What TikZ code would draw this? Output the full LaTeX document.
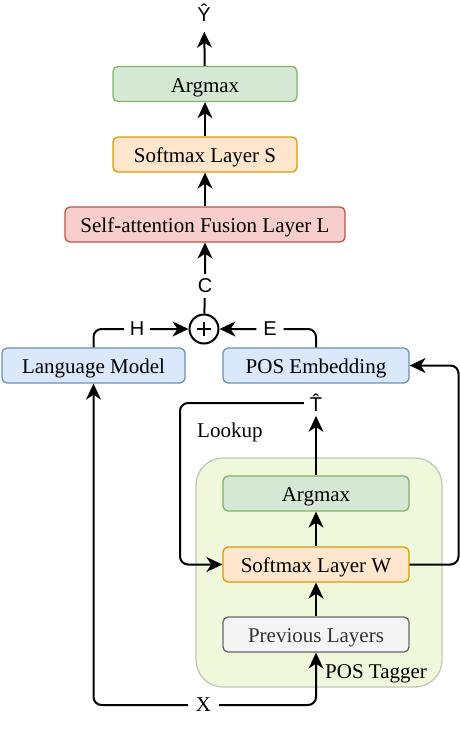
\documentclass[tikz,border=0pt]{standalone}
\usepackage{fontspec}
\setmainfont{Liberation Serif}
\newfontfamily\labfont{Liberation Sans}
\usetikzlibrary{arrows.meta}
\definecolor{gfill}{HTML}{D5E8D4}\definecolor{gdraw}{HTML}{82B366}
\definecolor{ofill}{HTML}{FFE6CC}\definecolor{odraw}{HTML}{D79B00}
\definecolor{rfill}{HTML}{F8CECC}\definecolor{rdraw}{HTML}{B85450}
\definecolor{bfill}{HTML}{DAE8FC}\definecolor{bdraw}{HTML}{6C8EBF}
\definecolor{pfill}{HTML}{F5F5F5}\definecolor{pdraw}{HTML}{666666}\definecolor{ptext}{HTML}{333333}
\definecolor{tfill}{RGB}{240,248,220}\definecolor{tdraw}{RGB}{192,200,182}
\begin{document}
\begin{tikzpicture}[x=1pt,y=-1pt,
  box/.style={draw, rounded corners=5pt, line width=1.3pt, inner sep=0pt,
    minimum height=35pt, text height=16pt, text depth=0pt,
    font=\fontsize{21}{24}\selectfont},
  greenbox/.style={box, fill=gfill, draw=gdraw},
  orangebox/.style={box, fill=ofill, draw=odraw},
  redbox/.style={box, fill=rfill, draw=rdraw},
  bluebox/.style={box, fill=bfill, draw=bdraw},
  greybox/.style={box, fill=pfill, draw=pdraw, text=ptext},
  lab/.style={inner sep=0pt, outer xsep=6pt, outer ysep=5pt, font=\labfont\fontsize{20}{22}\selectfont},
  serlab/.style={inner sep=0pt, font=\fontsize{21}{24}\selectfont},
  tip/.style={-{Stealth[length=16pt,width=15pt,inset=5pt]}},
  arr/.style={tip, line width=2pt},
  thinarr/.style={tip, line width=1.2pt},
  rc/.style={rounded corners=8pt}
]
\useasboundingbox (0,0) rectangle (460,742);

% POS Tagger container
\node[draw=tdraw, fill=tfill, line width=1.3pt, rounded corners=27pt,
      minimum width=246pt, minimum height=229pt, inner sep=0pt] (tagger) at (319,572.5) {};
\node[serlab, anchor=base west] (taglab) at (325,678) {POS Tagger};

% boxes
\node[greenbox, minimum width=184pt] (argS) at (205,84) {Argmax};
\node[orangebox, minimum width=184pt] (softS) at (205,154.5) {Softmax Layer S};
\node[redbox, minimum width=280pt] (fus) at (205,224.5) {Self-attention Fusion Layer L};
\node[bluebox, minimum width=183pt] (lm) at (93.5,365.5) {Language Model};
\node[bluebox, minimum width=186pt] (pe) at (316,365.5) {POS Embedding};
\node[greenbox, minimum width=186pt] (arg2) at (316,493.5) {Argmax};
\node[orangebox, minimum width=186pt] (softW) at (316,564.5) {Softmax Layer W};
\node[greybox, minimum width=186pt] (prev) at (316,634.5) {Previous Layers};

% plus
\node[circle, draw, line width=2pt, minimum size=29pt, inner sep=0pt] (plus) at (204,329) {};
\draw[line width=2.2pt] ([xshift=-7pt]plus.center) -- ([xshift=7pt]plus.center);
\draw[line width=2.2pt] ([yshift=-7pt]plus.center) -- ([yshift=7pt]plus.center);

% labels
\node[lab, outer ysep=10pt] (Yhat) at (204,13) {Ŷ};
\node[lab] (C) at (205,286) {C};
\node[lab, outer xsep=6pt] (H) at (137,329) {H};
\node[lab, outer xsep=7pt] (E) at (270,329) {E};
\node[lab, outer xsep=6pt, outer ysep=4pt] (That) at (316,403) {\^{T}};
\node[serlab, outer xsep=8pt] (X) at (203.5,705) {X};
\node[serlab, anchor=base west] (lookup) at (197,437) {Lookup};

\coordinate (lft) at (180,0);
\coordinate (rgt) at (458.5,0);

% top chain
\draw[arr] (argS) -- (Yhat);
\draw[arr] (softS) -- (argS);
\draw[arr] (fus) -- (softS);
\draw[arr] (plus) -- (C) -- (fus);

% H and E into plus
\draw[arr, rc] (lm.north) |- (H) -- (plus);
\draw[arr, rc] (pe.north) |- (E) -- (plus);

% tagger inner
\draw[thinarr] (prev) -- (softW);
\draw[thinarr] (softW) -- (arg2);
\draw[thinarr] (arg2) -- (That);

% lookup loop
\draw[arr, rc] (That.west) -- (That.west -| lft) -- (softW.west -| lft) -- (softW.west);
\draw[arr, rc] (softW.east) -- (softW.east -| rgt) -- (pe.east -| rgt) -- (pe.east);

% X to both
\draw[arr, rc] (X) -| (lm.south);
\draw[arr, rc] (X) -| (prev.south);
\end{tikzpicture}
\end{document}
